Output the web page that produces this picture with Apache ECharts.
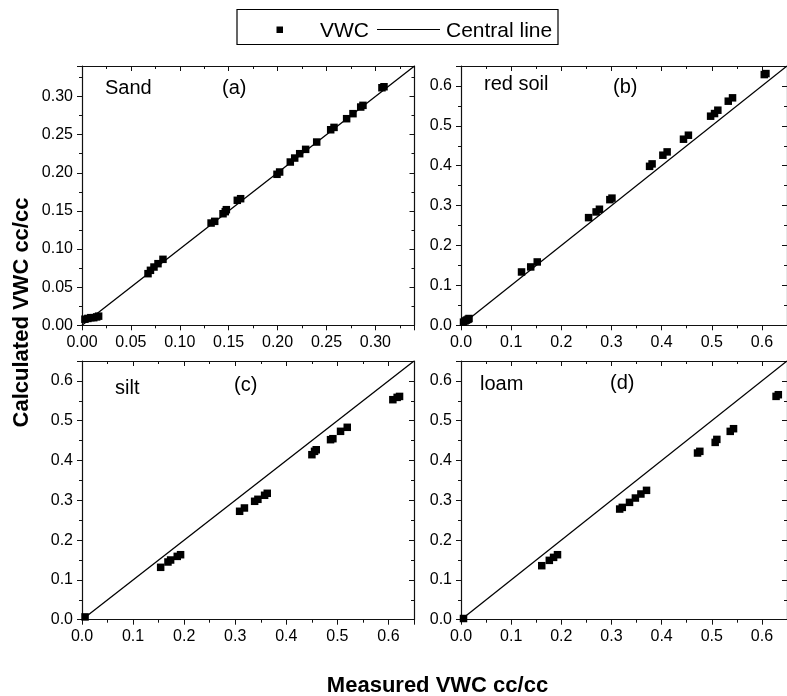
<!DOCTYPE html>
<html>
<head>
<meta charset="utf-8">
<script src="https://cdn.jsdelivr.net/npm/echarts@6/dist/echarts.min.js"></script>
<style>
  html, body { margin: 0; padding: 0; background: #ffffff; }
  #chart { width: 787px; height: 696px; }
</style>
</head>
<body>
<div id="chart"></div>
<script>
// Measured vs. calculated volumetric water content (cc/cc) for four soils
const sandMeasured = [0.003, 0.006, 0.009, 0.012, 0.015, 0.017, 0.0675, 0.070, 0.0736, 0.0777, 0.0828,
  0.132, 0.1357, 0.1442, 0.1465, 0.1476, 0.1588, 0.1622, 0.1994, 0.2021, 0.213, 0.2175, 0.2226, 0.2287,
  0.240, 0.2543, 0.2577, 0.2706, 0.2771, 0.285, 0.2873, 0.3067, 0.3088];
const sandCalculated = [0.008, 0.009, 0.010, 0.010, 0.011, 0.012, 0.0677, 0.0721, 0.0764, 0.0808, 0.0865,
  0.1341, 0.1363, 0.1463, 0.149, 0.1516, 0.1639, 0.166, 0.198, 0.201, 0.2141, 0.2193, 0.225, 0.2307,
  0.2403, 0.2564, 0.2595, 0.2709, 0.2775, 0.2862, 0.2884, 0.3115, 0.3128];

const redSoilMeasured = [0.005, 0.008, 0.011, 0.014, 0.016, 0.1207, 0.139, 0.152, 0.2544, 0.2694, 0.276,
  0.2968, 0.301, 0.376, 0.381, 0.4025, 0.411, 0.4436, 0.4534, 0.4977, 0.5055, 0.5121, 0.5329, 0.5414,
  0.6047, 0.608];
const redSoilCalculated = [0.008, 0.011, 0.013, 0.015, 0.017, 0.1337, 0.1463, 0.1588, 0.2699, 0.2842, 0.2909,
  0.3150, 0.3188, 0.3985, 0.4046, 0.4264, 0.4347, 0.4665, 0.4765, 0.5242, 0.5308, 0.5392, 0.5618, 0.5702,
  0.6285, 0.631];

const siltMeasured = [0.006, 0.154, 0.1683, 0.1735, 0.1865, 0.193, 0.3086, 0.318, 0.338, 0.3444, 0.3575,
  0.3627, 0.4501, 0.4553, 0.4586, 0.4866, 0.4912, 0.5062, 0.5193, 0.6086, 0.617, 0.6217];
const siltCalculated = [0.007, 0.1316, 0.145, 0.150, 0.1591, 0.1633, 0.2724, 0.2807, 0.2975, 0.3025, 0.3126,
  0.3176, 0.4146, 0.423, 0.427, 0.4523, 0.4548, 0.4733, 0.4834, 0.5528, 0.5586, 0.561];

const loamMeasured = [0.005, 0.161, 0.1761, 0.1846, 0.1924, 0.3164, 0.3216, 0.336, 0.3477, 0.3587, 0.3699,
  0.4716, 0.4762, 0.5068, 0.5101, 0.5368, 0.5434, 0.6282, 0.6327];
const loamCalculated = [0.003, 0.1357, 0.1491, 0.1566, 0.1633, 0.278, 0.2822, 0.2948, 0.3057, 0.3158, 0.325,
  0.4188, 0.423, 0.4455, 0.453, 0.4732, 0.4799, 0.5611, 0.5653];

// Axis ranges and tick spacing of each panel
const axisMax = [0.34, 0.65, 0.65, 0.65];
const tickStep = [0.05, 0.1, 0.1, 0.1];
const tickDigits = [2, 1, 1, 1];

const soilNames = ['Sand', 'red soil', 'silt', 'loam'];
const panelTags = ['(a)', '(b)', '(c)', '(d)'];
const legendNames = ['VWC', 'Central line'];
const xTitle = 'Measured VWC cc/cc';
const yTitle = 'Calculated VWC cc/cc';

const measured = [sandMeasured, redSoilMeasured, siltMeasured, loamMeasured];
const calculated = [sandCalculated, redSoilCalculated, siltCalculated, loamCalculated];

// Plot-area boxes (px)
const boxes = [
  { left: 82, top: 66, width: 332.5, height: 259.3 },
  { left: 461, top: 66, width: 332, height: 259.3 },
  { left: 82, top: 361, width: 332, height: 258.7 },
  { left: 461, top: 361, width: 332, height: 258.7 }
];
// Soil name / panel tag positions (left x, middle y)
const namePos = [[105, 88.5], [484, 84.5], [115, 388], [480, 384.5]];
const tagPos = [[222, 88], [613, 87.5], [234, 385], [610, 383]];

const FONT = '"Liberation Sans", Arial, Helvetica, sans-serif';
const INK = '#111';

const grids = [], xAxes = [], yAxes = [], series = [], graphics = [];

function baseAxis(i, gridIndex, position, inner) {
  return {
    type: 'value',
    gridIndex: gridIndex,
    position: position,
    min: 0,
    max: axisMax[i],
    interval: tickStep[i],
    axisLine: { show: true, onZero: false, lineStyle: { color: INK, width: 1.2 } },
    axisTick: { show: true, inside: inner, length: 5, lineStyle: { color: INK, width: 1 } },
    minorTick: { show: true, splitNumber: 2, length: 3, lineStyle: { color: INK, width: 1 } },
    splitLine: { show: false },
    axisLabel: inner ? { show: false } : {
      show: true,
      margin: 9,
      fontSize: 16,
      fontFamily: FONT,
      color: '#000',
      showMaxLabel: false,
      formatter: (v) => v.toFixed(tickDigits[i])
    }
  };
}

for (let i = 0; i < 4; i++) {
  grids.push(Object.assign({ containLabel: false }, boxes[i]));
  xAxes.push(baseAxis(i, i, 'bottom', false));
  xAxes.push(baseAxis(i, i, 'top', true));
  yAxes.push(baseAxis(i, i, 'left', false));
  yAxes.push(baseAxis(i, i, 'right', true));

  series.push({
    name: legendNames[1],
    type: 'line',
    xAxisIndex: 2 * i,
    yAxisIndex: 2 * i,
    data: [[0, 0], [axisMax[i], axisMax[i]]],
    showSymbol: false,
    symbol: 'none',
    lineStyle: { color: '#000', width: 1.3 },
    z: 2,
    silent: true
  });
  series.push({
    name: legendNames[0],
    type: 'scatter',
    xAxisIndex: 2 * i,
    yAxisIndex: 2 * i,
    data: measured[i].map((m, k) => [m, calculated[i][k]]),
    symbol: 'rect',
    symbolSize: 7.5,
    itemStyle: { color: '#000', opacity: 1 },
    z: 3,
    silent: true
  });

  graphics.push({
    type: 'text', x: namePos[i][0], y: namePos[i][1], z: 10,
    style: { text: soilNames[i], font: '20px ' + FONT, fill: '#000', verticalAlign: 'middle' }
  });
  graphics.push({
    type: 'text', x: tagPos[i][0], y: tagPos[i][1], z: 10,
    style: { text: panelTags[i], font: '20px ' + FONT, fill: '#000', verticalAlign: 'middle' }
  });
}

// Legend box
graphics.push({
  type: 'rect', z: 10,
  shape: { x: 237, y: 9.5, width: 321, height: 35 },
  style: { fill: '#fff', stroke: '#000', lineWidth: 1.2 }
});
graphics.push({
  type: 'rect', z: 11,
  shape: { x: 276.5, y: 26.5, width: 6.5, height: 6.5 },
  style: { fill: '#000' }
});
graphics.push({
  type: 'text', x: 320, y: 31, z: 11,
  style: { text: legendNames[0], font: '21px ' + FONT, fill: '#000', verticalAlign: 'middle' }
});
graphics.push({
  type: 'line', z: 11,
  shape: { x1: 377, y1: 29.5, x2: 440, y2: 29.5 },
  style: { stroke: '#000', lineWidth: 1.2 }
});
graphics.push({
  type: 'text', x: 446, y: 31, z: 11,
  style: { text: legendNames[1], font: '21px ' + FONT, fill: '#000', verticalAlign: 'middle' }
});

// Shared axis titles
graphics.push({
  type: 'text', x: 437.5, y: 685.5, z: 10,
  style: { text: xTitle, font: 'bold 22px ' + FONT, fill: '#000', align: 'center', verticalAlign: 'middle' }
});
graphics.push({
  type: 'text', x: 21.5, y: 312.5, rotation: Math.PI / 2, z: 10,
  style: { text: yTitle, font: 'bold 22px ' + FONT, fill: '#000', align: 'center', verticalAlign: 'middle' }
});

const chart = echarts.init(document.getElementById('chart'), null, { renderer: 'canvas' });
chart.setOption({
  backgroundColor: '#ffffff',
  animation: false,
  grid: grids,
  xAxis: xAxes,
  yAxis: yAxes,
  series: series,
  graphic: graphics
});
</script>
</body>
</html>
